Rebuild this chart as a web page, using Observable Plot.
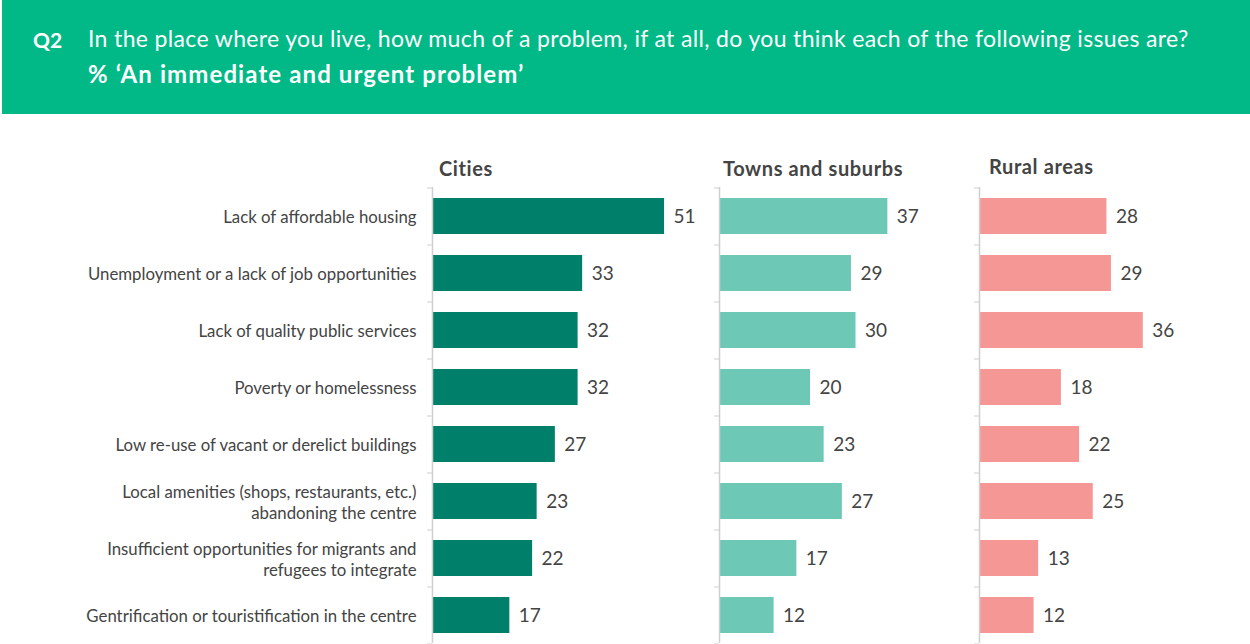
<!DOCTYPE html>
<html><head><meta charset="utf-8">
<script src="https://cdn.jsdelivr.net/npm/d3@7"></script>
<script src="https://cdn.jsdelivr.net/npm/@observablehq/plot@0.6"></script>
<style>
body{margin:0;background:#fff;font-family:Lato,sans-serif;width:1250px;height:644px;overflow:hidden;position:relative}
#hdr{position:absolute;left:2px;top:0;width:1248px;height:114px;background:#00b986;color:#fff}
#hdr .q{position:absolute;left:31px;top:27px;font-weight:700;font-size:21px}
#hdr .l1{position:absolute;left:86px;top:24px;font-size:23px;letter-spacing:0.35px;white-space:nowrap}
#hdr .l2{position:absolute;left:86px;top:59px;font-size:24px;font-weight:700;letter-spacing:1.1px;white-space:nowrap}
.ptitle{position:absolute;font-weight:700;font-size:20px;letter-spacing:0.6px;color:#444;white-space:nowrap}
.panel{position:absolute;top:180px}
.panel svg{overflow:visible;max-width:none}
</style></head>
<body>
<div id="hdr"><span class="q">Q2</span><span class="l1">In the place where you live, how much of a problem, if at all, do you think each of the following issues are?</span><span class="l2">% ‘An immediate and urgent problem’</span></div>
<div id="charts"></div>
<script>
const issues = [
  "Lack of affordable housing",
  "Unemployment or a lack of job opportunities",
  "Lack of quality public services",
  "Poverty or homelessness",
  "Low re-use of vacant or derelict buildings",
  "Local amenities (shops, restaurants, etc.)\nabandoning the centre",
  "Insufficient opportunities for migrants and\nrefugees to integrate",
  "Gentrification or touristification in the centre"
];
const panelNames = ["Cities", "Towns and suburbs", "Rural areas"];
const cities = [51, 33, 32, 32, 27, 23, 22, 17];
const towns = [37, 29, 30, 20, 23, 27, 17, 12];
const rural = [28, 29, 36, 18, 22, 25, 13, 12];
const colors = ["#00806a", "#6dc8b5", "#f59794"];

const series = [cities, towns, rural];
const axisX = [432, 719, 979];
const titleX = [439, 723, 989];
const titleY = [156, 156, 154];
const k = 4.55; // px per percentage point
const marginTop = 7, plotH = 456;
const step = plotH / issues.length;
const container = document.getElementById("charts");

series.forEach((vals, i) => {
  const data = issues.map((q, j) => ({issue: q, value: vals[j]}));
  const ml = i === 0 ? axisX[0] : 10;
  const left = axisX[i] - ml;
  const chart = Plot.plot({
    width: ml + 300,
    height: marginTop + plotH + 1,
    marginTop, marginBottom: 1, marginLeft: ml, marginRight: 0,
    style: {fontFamily: "Lato, sans-serif", background: "transparent"},
    x: {domain: [0, 100], range: [ml, ml + 100 * k], axis: null},
    y: {domain: issues, paddingInner: 0.37, paddingOuter: 0.185, axis: null},
    marks: [
      Plot.barX(data, {y: "issue", x: "value", fill: colors[i]}),
      Plot.text(data, {y: "issue", x: "value", text: d => String(d.value), dx: 9, textAnchor: "start", fontSize: 19, fill: "#444"}),
      i === 0 ? Plot.text(data, {y: "issue", x: 0, text: "issue", dx: -16, textAnchor: "end", fontSize: 16.8, lineHeight: 1.25, fill: "#444"}) : null,
      Plot.ruleX([0], {stroke: "#cfcfcf", strokeWidth: 1.5}),
      Plot.ruleY(issues, {y: d => d, x1: -1.1, x2: 0, dy: -step / 2, stroke: "#cfcfcf"}),
      Plot.ruleY([issues[issues.length - 1]], {y: d => d, x1: -1.1, x2: 0, dy: step / 2, stroke: "#cfcfcf"})
    ]
  });
  const div = document.createElement("div");
  div.className = "panel";
  div.style.left = left + "px";
  div.appendChild(chart);
  container.appendChild(div);
  const t = document.createElement("div");
  t.className = "ptitle";
  t.style.left = titleX[i] + "px";
  t.style.top = titleY[i] + "px";
  t.textContent = panelNames[i];
  container.appendChild(t);
});
</script>
</body></html>
